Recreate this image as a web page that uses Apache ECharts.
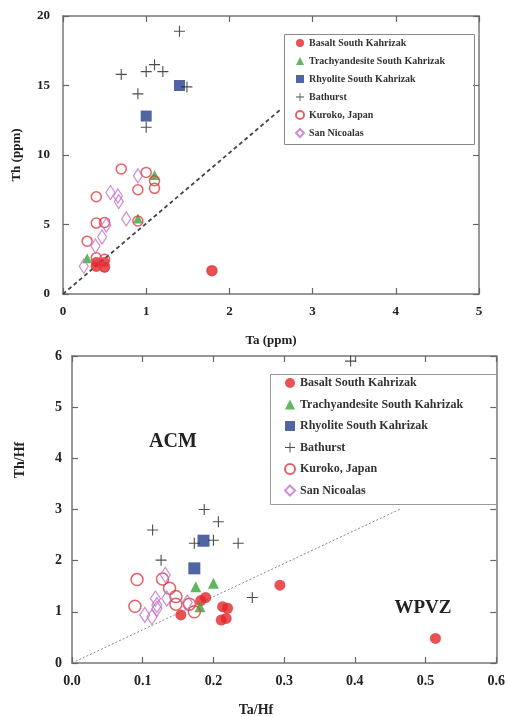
<!DOCTYPE html>
<html>
<head>
<meta charset="utf-8">
<script src="https://cdn.jsdelivr.net/npm/echarts@6/dist/echarts.min.js"></script>
<style>
  html, body { margin: 0; padding: 0; background: #fff; }
  #main { width: 508px; height: 717px; }
</style>
</head>
<body>
<div id="main"></div>
<script>
// top diagram: Th (ppm) vs Ta (ppm)
const topBasalt = [[0.4, 2.3], [0.5, 2.3], [0.5, 1.9], [0.4, 2.0], [1.79, 1.68]];
const topTrachy = [[1.1, 8.56], [0.9, 5.44], [0.29, 2.57]];
const topRhyolite = [[1.4, 15.0], [1.0, 12.8]];
const topBathurst = [[1.4, 18.9], [0.7, 15.8], [1.0, 16.0], [1.1, 16.5], [1.2, 16.0], [0.9, 14.4], [1.49, 14.9], [1.0, 12.0]];
const topKuroko = [[0.7, 9.0], [1.0, 8.75], [1.1, 8.15], [1.1, 7.6], [0.9, 7.5], [0.4, 7.0], [0.4, 5.1], [0.5, 5.15], [0.9, 5.25],
  [0.29, 3.8], [0.4, 2.6], [0.5, 2.5], [0.4, 2.0], [0.5, 1.95], [1.79, 1.68]];
const topSanNic = [[0.9, 8.5], [0.57, 7.3], [0.66, 7.05], [0.67, 6.65], [0.76, 5.4], [0.52, 4.95], [0.47, 4.1], [0.39, 3.45], [0.25, 2.0]];
const topLine = [[0, 0], [2.62, 13.3]];

// bottom diagram: Th/Hf vs Ta/Hf
const botBasalt = [[0.294, 1.52], [0.189, 1.28], [0.182, 1.22], [0.154, 0.94], [0.213, 1.1], [0.22, 1.07], [0.211, 0.84], [0.218, 0.87], [0.514, 0.48]];
const botTrachy = [[0.175, 1.49], [0.2, 1.56], [0.181, 1.1]];
const botRhyolite = [[0.186, 2.39], [0.173, 1.85]];
const botBathurst = [[0.394, 5.9], [0.187, 3.0], [0.207, 2.76], [0.114, 2.6], [0.173, 2.34], [0.2, 2.4], [0.235, 2.34], [0.126, 2.01], [0.255, 1.28]];
const botKuroko = [[0.092, 1.63], [0.128, 1.64], [0.138, 1.46], [0.147, 1.3], [0.147, 1.15], [0.089, 1.11], [0.166, 1.15], [0.173, 1.0]];
const botSanNic = [[0.132, 1.72], [0.118, 1.26], [0.134, 1.26], [0.12, 1.13], [0.103, 0.94], [0.113, 0.9], [0.12, 1.06], [0.163, 1.18]];
const botLine = [[0, 0], [0.466, 3.02]];

const names = ['Basalt South Kahrizak', 'Trachyandesite South Kahrizak', 'Rhyolite South Kahrizak', 'Bathurst', 'Kuroko, Japan', 'San Nicoalas'];

const serif = "'Liberation Serif', 'DejaVu Serif', serif";
const plus = 'path://M4.5,0H5.5V4.5H10V5.5H5.5V10H4.5V5.5H0V4.5H4.5Z';
const cRed = '#e4252b', cGreen = '#3aa53a', cBlue = '#263f8c', cBlack = '#222', cKuroko = '#e0393e', cSan = '#c272c8';

const chart = echarts.init(document.getElementById('main'));

function axisCommon(min, max, interval) {
  return {
    type: 'value', min: min, max: max, interval: interval,
    splitLine: { show: false },
    axisLine: { show: true, onZero: false, lineStyle: { color: '#777', width: 1.5 } },
    axisTick: { show: true, inside: true, length: 6, lineStyle: { color: '#666', width: 1.2 } },
    axisLabel: { color: '#222', fontFamily: serif, fontWeight: 'bold', fontSize: 14 }
  };
}

function mirror(ax, pos, grid) {
  return Object.assign(ax, { position: pos, gridIndex: grid, axisLabel: { show: false } });
}

function pointSeries(g, sizes) {
  return [
    { name: names[0], data: g[0], symbol: 'circle', symbolSize: sizes[0], itemStyle: { color: cRed } },
    { name: names[1], data: g[1], symbol: 'triangle', symbolSize: sizes[1], itemStyle: { color: cGreen } },
    { name: names[2], data: g[2], symbol: 'rect', symbolSize: sizes[2], itemStyle: { color: cBlue } },
    { name: names[3], data: g[3], symbol: plus, symbolSize: sizes[3], itemStyle: { color: cBlack } },
    { name: names[4], data: g[4], symbol: 'circle', symbolSize: sizes[4], itemStyle: { color: 'rgba(255,255,255,0)', borderColor: cKuroko, borderWidth: 1.5 } },
    { name: names[5], data: g[5], symbol: 'diamond', symbolSize: sizes[5], itemStyle: { color: 'rgba(255,255,255,0)', borderColor: cSan, borderWidth: 1.3 } }
  ];
}

const topPts = pointSeries([topBasalt, topTrachy, topRhyolite, topBathurst, topKuroko, topSanNic], [10, 10, 11, 11, 10, [9, 14]])
  .map(s => Object.assign(s, { type: 'scatter', xAxisIndex: 0, yAxisIndex: 0 }));
const botPts = pointSeries([botBasalt, botTrachy, botRhyolite, botBathurst, botKuroko, botSanNic], [11, 11, 12, 11, 12, [10, 15]])
  .map(s => Object.assign(s, { type: 'scatter', xAxisIndex: 2, yAxisIndex: 2 }));

const xTop = axisCommon(0, 5, 1);
xTop.gridIndex = 0;
xTop.axisLabel.fontSize = 13;
xTop.axisLabel.margin = 11;
xTop.name = 'Ta (ppm)';
xTop.nameLocation = 'middle';
xTop.nameGap = 40;
xTop.nameTextStyle = { color: '#222', fontFamily: serif, fontWeight: 'bold', fontSize: 13 };

const yTop = axisCommon(0, 20, 5);
yTop.gridIndex = 0;
yTop.axisLabel.fontSize = 13;
yTop.axisLabel.margin = 13;
yTop.name = 'Th (ppm)';
yTop.nameLocation = 'middle';
yTop.nameGap = 40;
yTop.nameTextStyle = { color: '#222', fontFamily: serif, fontWeight: 'bold', fontSize: 13 };

const xBot = axisCommon(0, 0.6, 0.1);
xBot.gridIndex = 1;
xBot.axisLabel.margin = 11;
xBot.axisLabel.formatter = v => v.toFixed(1);

const yBot = axisCommon(0, 6, 1);
yBot.gridIndex = 1;
yBot.axisLabel.margin = 10;

const legendText = (size) => ({ color: '#333', fontFamily: serif, fontWeight: 'bold', fontSize: size });

chart.setOption({
  animation: false,
  backgroundColor: '#fff',
  grid: [
    { left: 63, top: 16, right: 29, height: 278 },
    { left: 72, top: 356, right: 10, bottom: 54 }
  ],
  xAxis: [xTop, mirror(axisCommon(0, 5, 1), 'top', 0), xBot, mirror(axisCommon(0, 0.6, 0.1), 'top', 1)],
  yAxis: [yTop, mirror(axisCommon(0, 20, 5), 'right', 0), yBot, mirror(axisCommon(0, 6, 1), 'right', 1)],
  legend: [
    { data: names, orient: 'vertical', left: 295, top: 38, itemWidth: 8, itemHeight: 8, itemGap: 8, padding: 0,
      textStyle: legendText(10), selectedMode: false },
    { data: names, orient: 'vertical', left: 284, top: 377, itemWidth: 10, itemHeight: 10, itemGap: 9.5, padding: 0,
      textStyle: legendText(12), selectedMode: false }
  ],
  graphic: [
    { type: 'rect', left: 282, top: 32, shape: { width: 190, height: 110 }, style: { fill: 'none', stroke: '#888', lineWidth: 1 }, z: 5 },
    { type: 'rect', left: 268, top: 372, shape: { width: 226, height: 130 }, style: { fill: 'none', stroke: '#999', lineWidth: 1 }, z: 5 },
    { type: 'text', x: 173, y: 442, style: { text: 'ACM', font: 'bold 20px ' + serif, fill: '#222', align: 'center', verticalAlign: 'middle' } },
    { type: 'text', x: 423, y: 608, style: { text: 'WPVZ', font: 'bold 19px ' + serif, fill: '#222', align: 'center', verticalAlign: 'middle' } },
    { type: 'text', x: 256, y: 710, style: { text: 'Ta/Hf', font: 'bold 14px ' + serif, fill: '#222', align: 'center', verticalAlign: 'middle' } },
    { type: 'text', x: 20, y: 460, rotation: Math.PI / 2, style: { text: 'Th/Hf', font: 'bold 14px ' + serif, fill: '#222', align: 'center', verticalAlign: 'middle' } }
  ],
  series: [
    { type: 'line', data: topLine, xAxisIndex: 0, yAxisIndex: 0, showSymbol: false, silent: true,
      lineStyle: { color: '#444', width: 1.8, type: [4, 3] }, z: 1 },
    { type: 'line', data: botLine, xAxisIndex: 2, yAxisIndex: 2, showSymbol: false, silent: true,
      lineStyle: { color: '#888', width: 1, type: [2, 2] }, z: 1 }
  ].concat(topPts, botPts)
});
</script>
</body>
</html>
